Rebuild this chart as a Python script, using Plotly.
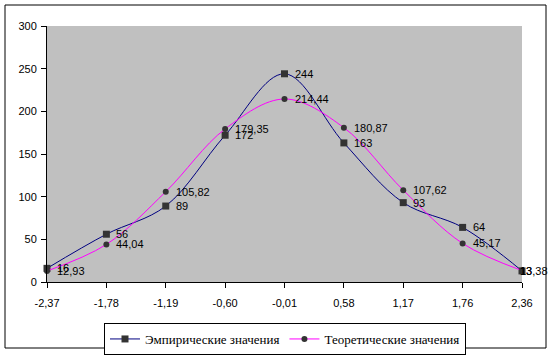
import plotly.graph_objects as go

categories = ["-2,37", "-1,78", "-1,19", "-0,60", "-0,01", "0,58", "1,17", "1,76", "2,36"]
empirical = [16, 56, 89, 172, 244, 163, 93, 64, 13]
theoretical = [12.93, 44.04, 105.82, 179.35, 214.44, 180.87, 107.62, 45.17, 13.38]
emp_labels = [str(v) for v in empirical]
theo_labels = [f"{v:.2f}".replace(".", ",") for v in theoretical]
y_ticks = [0, 50, 100, 150, 200, 250, 300]

idx = list(range(len(categories)))

fig = go.Figure()
fig.add_trace(go.Scatter(
    x=idx, y=empirical, name="Эмпирические значения",
    mode="lines+markers",
    line=dict(color="#000080", width=1, shape="spline", smoothing=1),
    marker=dict(symbol="square", size=7, color="#333333"),
    cliponaxis=False,
))
fig.add_trace(go.Scatter(
    x=idx, y=theoretical, name="Теоретические значения",
    mode="lines+markers",
    line=dict(color="#FF00FF", width=1, shape="spline", smoothing=1),
    marker=dict(symbol="circle", size=6, color="#333333"),
    cliponaxis=False,
))

label_font = dict(family="Liberation Sans, Arial", size=11, color="black")
for series, labels in ((empirical, emp_labels), (theoretical, theo_labels)):
    for i, (v, t) in enumerate(zip(series, labels)):
        last = i == len(series) - 1
        fig.add_annotation(
            x=i, y=v, text=t, showarrow=False, xanchor="left", yanchor="middle",
            xshift=-4 if last else 8, font=label_font,
        )

L, R, T, B = 47, 30, 26, 73
W, H = 552, 355
pw, ph = W - L - R, H - T - B

def px_x(p):
    return (p - L) / pw

def px_y(p):
    return (H - B - p) / ph

fig.add_shape(type="rect", xref="paper", yref="paper",
              x0=px_x(5), x1=px_x(546), y0=px_y(348), y1=px_y(5),
              line=dict(color="black", width=1), layer="below")

fig.update_layout(
    width=W, height=H,
    margin=dict(l=L, r=R, t=T, b=B, autoexpand=False),
    paper_bgcolor="white", plot_bgcolor="#C0C0C0",
    font=dict(family="Liberation Sans, Arial", size=11, color="black"),
    showlegend=True,
    legend=dict(
        orientation="h", xref="container", yref="container",
        x=285 / W, xanchor="center", y=1 - 323 / H, yanchor="top",
        bordercolor="black", borderwidth=1, bgcolor="white",
        font=dict(family="Liberation Serif, Times New Roman", size=13, color="black"),
        tracegroupgap=0, itemwidth=30,
    ),
    xaxis=dict(
        range=[0, 8], tickmode="array", tickvals=idx, ticktext=categories,
        showgrid=False, zeroline=False, showline=True, linecolor="black", linewidth=1,
        ticks="outside", ticklen=5, tickcolor="black", ticklabelstandoff=6,
        tickfont=dict(size=11), automargin=False,
    ),
    yaxis=dict(
        range=[0, 300], tickmode="array", tickvals=y_ticks,
        showgrid=False, zeroline=False, showline=True, linecolor="black", linewidth=1,
        ticks="outside", ticklen=5, tickcolor="black", ticklabelstandoff=2,
        tickfont=dict(size=11), automargin=False,
    ),
)

fig.write_html("out.html")
